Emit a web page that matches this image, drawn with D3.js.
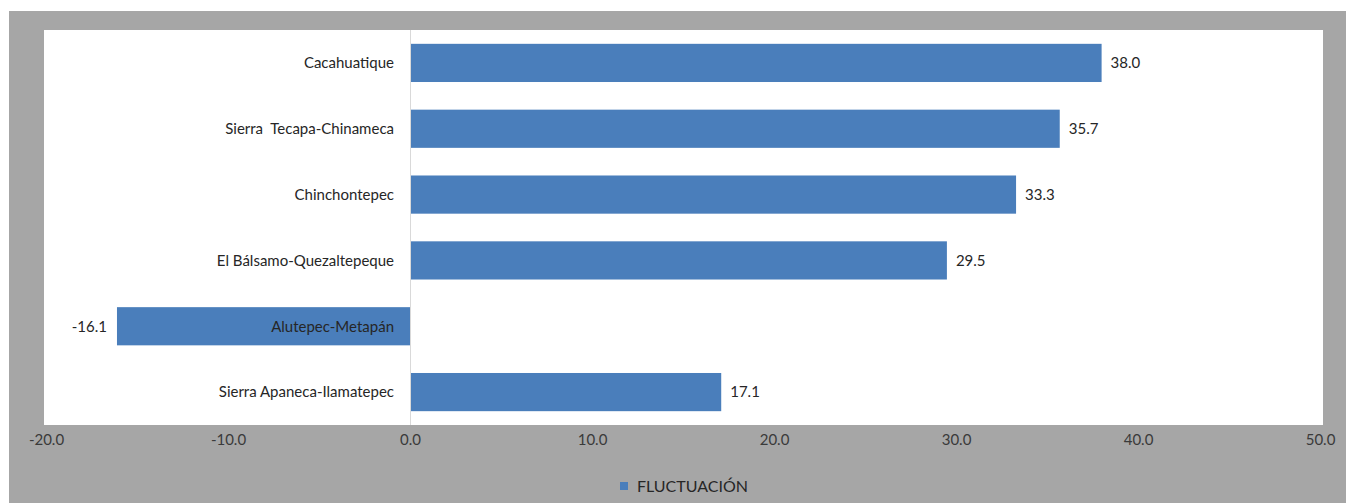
<!DOCTYPE html>
<html lang="es">
  <head>
    <meta charset="utf-8">
    <script src="https://cdnjs.cloudflare.com/ajax/libs/d3/7.8.5/d3.min.js"></script>
    <style>
      body { margin: 0; background: #fff; }
      text { font-family: Lato, "Open Sans", sans-serif; white-space: pre; }
      .cat text { font-size: 15px; fill: #262626; }
      .xaxis text { font-size: 15px; fill: #3a3a3a; }
      .val { font-size: 15px; fill: #262626; }
    </style>
  </head>
  <body>
  <script>
  var categories = ['Cacahuatique', 'Sierra  Tecapa-Chinameca', 'Chinchontepec',
                    'El Bálsamo-Quezaltepeque', 'Alutepec-Metapán', 'Sierra Apaneca-Ilamatepec'];
  var values = [38.0, 35.7, 33.3, 29.5, -16.1, 17.1];
  var xTicks = [-20, -10, 0, 10, 20, 30, 40, 50];
  var seriesName = 'FLUCTUACIÓN';

  var width = 1346,
      height = 503;

  // plain hyphen for negatives, like the original
  var fmt = d => d.toFixed(1);

  var svg = d3.select('body')
    .append('svg')
    .attr('width', width)
    .attr('height', height);

  // grey chart frame and white plot area
  svg.append('rect')
    .attr('x', 9).attr('y', 11)
    .attr('width', width - 9).attr('height', height - 11)
    .attr('fill', '#a6a6a6');

  svg.append('rect')
    .attr('x', 44).attr('y', 30)
    .attr('width', 1279).attr('height', 395)
    .attr('fill', '#fff');

  var x = d3.scaleLinear()
    .domain([-20, 50])
    .range([46, 1320]);

  var y = d3.scaleBand()
    .domain(categories)
    .range([30, 425])
    .paddingInner(0.42)
    .paddingOuter(0.21);

  var blue = '#4a7ebb';

  // bars
  svg.append('g').selectAll('rect')
    .data(values)
    .enter().append('rect')
      .attr('x', d => x(Math.min(0, d)))
      .attr('y', (d, i) => y(categories[i]))
      .attr('width', d => Math.abs(x(d) - x(0)))
      .attr('height', y.bandwidth())
      .attr('fill', blue);

  // vertical axis line
  svg.append('line')
    .attr('x1', x(0) + 0.5).attr('x2', x(0) + 0.5)
    .attr('y1', 30).attr('y2', 425)
    .attr('stroke', '#d9d9d9');

  // category labels
  svg.append('g').attr('class', 'cat').selectAll('text')
    .data(categories)
    .enter().append('text')
      .attr('x', x(0) - 16)
      .attr('y', d => y(d) + y.bandwidth() / 2)
      .attr('dy', '0.35em')
      .attr('text-anchor', 'end')
      .text(d => d);

  // value labels
  svg.append('g').selectAll('text')
    .data(values)
    .enter().append('text')
      .attr('class', 'val')
      .attr('x', d => d < 0 ? x(d) - 10 : x(d) + 9)
      .attr('y', (d, i) => y(categories[i]) + y.bandwidth() / 2)
      .attr('dy', '0.35em')
      .attr('text-anchor', d => d < 0 ? 'end' : 'start')
      .text(fmt);

  // x axis
  var xAxis = d3.axisBottom(x)
    .tickValues(xTicks)
    .tickFormat(fmt)
    .tickSize(0)
    .tickPadding(9);

  svg.append('g')
    .attr('class', 'xaxis')
    .attr('transform', 'translate(0,425)')
    .call(xAxis)
    .call(g => g.select('.domain').remove())
    .call(g => g.selectAll('text').attr('font-family', null).attr('font-size', null));

  // legend
  var legend = svg.append('g').attr('transform', 'translate(620,486)');
  legend.append('rect')
    .attr('x', 0).attr('y', -4)
    .attr('width', 8).attr('height', 8)
    .attr('fill', blue);
  legend.append('text')
    .attr('x', 17).attr('dy', '0.35em')
    .style('font-size', '16px')
    .style('fill', '#262626')
    .text(seriesName);
  </script>
  </body>
</html>
